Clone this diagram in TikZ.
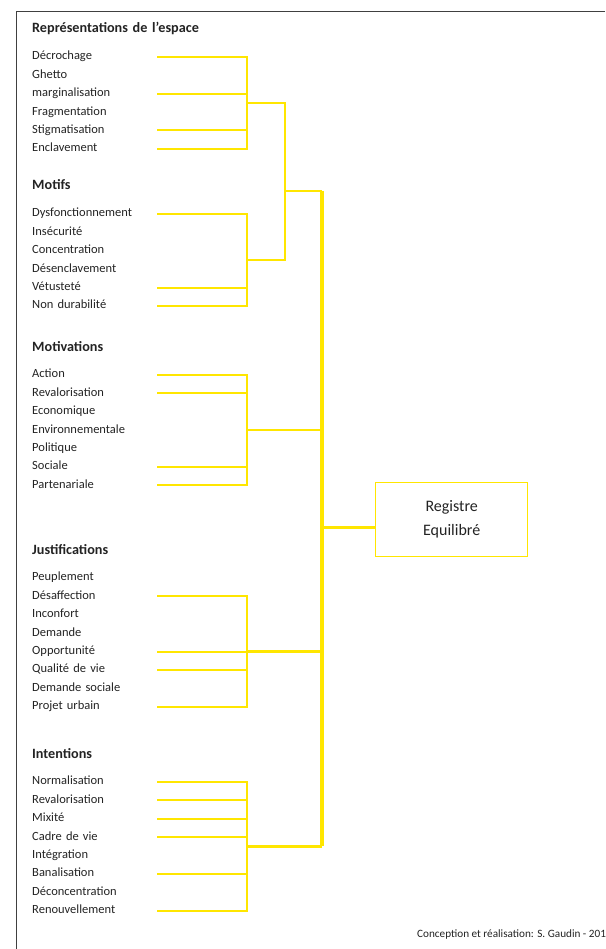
\documentclass[tikz,border=0pt]{standalone}
\usepackage{fontspec}
\setmainfont{Carlito}
\usepackage{xcolor}
\usetikzlibrary{positioning}
\definecolor{trait}{RGB}{255,230,0}
\definecolor{encre}{RGB}{35,35,35}

\begin{document}
\begin{tikzpicture}[
  x=1pt, y=-1pt, node distance=6pt,
  item/.style={inner sep=0pt,text width=200pt,align=left,text height=9pt,text depth=3pt,font=\fontsize{12.5}{14}\selectfont,text=encre},
  head/.style={item,font=\fontsize{14.2}{16}\selectfont\bfseries},
  fil/.style={draw=trait,line width=2pt},
  fil2/.style={draw=trait,line width=2.5pt},
  tronc/.style={draw=trait,line width=3.2pt},
  cadre/.style={draw=trait,line width=1.5pt,minimum width=152pt,minimum height=74pt,align=center,font=\fontsize{16}{24}\selectfont,text=encre}
]
\useasboundingbox (0,0) rectangle (605,949);
% frame
\draw[line width=1.5pt,black!75] (605,11.5) -- (16.5,11.5) -- (16.5,949);

% columns of the tree
\coordinate (ls) at (157,0);
\coordinate (bus) at (247,0);
\coordinate (mid) at (285,0);
\coordinate (tr) at (322,0);

% Representations
\node[head,anchor=west] (h1) at (32,30) {Représentations de l’espace};
\node[item,below=14.5pt of h1] (a1) {Décrochage};
\node[item,below=of a1] (a2) {Ghetto};
\node[item,below=of a2] (a3) {marginalisation};
\node[item,below=of a3] (a4) {Fragmentation};
\node[item,below=of a4] (a5) {Stigmatisation};
\node[item,below=of a5] (a6) {Enclavement};

% Motifs
\node[head,anchor=west] (h2) at (32,187) {Motifs};
\node[item,below=14.5pt of h2] (b1) {Dysfonctionnement};
\node[item,below=of b1] (b2) {Insécurité};
\node[item,below=of b2] (b3) {Concentration};
\node[item,below=of b3] (b4) {Désenclavement};
\node[item,below=of b4] (b5) {Vétusteté};
\node[item,below=of b5] (b6) {Non durabilité};

% Motivations
\node[head,anchor=west] (h3) at (32,348) {Motivations};
\node[item,below=14.5pt of h3] (c1) {Action};
\node[item,below=of c1] (c2) {Revalorisation};
\node[item,below=of c2] (c3) {Economique};
\node[item,below=of c3] (c4) {Environnementale};
\node[item,below=of c4] (c5) {Politique};
\node[item,below=of c5] (c6) {Sociale};
\node[item,below=of c6] (c7) {Partenariale};

% Justifications
\node[head,anchor=west] (h4) at (32,551) {Justifications};
\node[item,below=14.5pt of h4] (d1) {Peuplement};
\node[item,below=of d1] (d2) {Désaffection};
\node[item,below=of d2] (d3) {Inconfort};
\node[item,below=of d3] (d4) {Demande};
\node[item,below=of d4] (d5) {Opportunité};
\node[item,below=of d5] (d6) {Qualité de vie};
\node[item,below=of d6] (d7) {Demande sociale};
\node[item,below=of d7] (d8) {Projet urbain};

% Intentions
\node[head,anchor=west] (h5) at (32,755) {Intentions};
\node[item,below=14.5pt of h5] (e1) {Normalisation};
\node[item,below=of e1] (e2) {Revalorisation};
\node[item,below=of e2] (e3) {Mixité};
\node[item,below=of e3] (e4) {Cadre de vie};
\node[item,below=of e4] (e5) {Intégration};
\node[item,below=of e5] (e6) {Banalisation};
\node[item,below=of e6] (e7) {Déconcentration};
\node[item,below=of e7] (e8) {Renouvellement};

% result
\node[cadre] (reg) at (451.7,519.7) {Registre\\Equilibré};
\coordinate (att) at ([yshift=-8pt]reg.west);

\node[anchor=west,inner sep=0pt,font=\fontsize{11.2}{13}\selectfont,text=encre] (sig) at (417,935) {Conception et réalisation: S. Gaudin - 201};

% brackets
\draw[fil] (ls |- a1) -- (bus |- a1) -- (bus |- a6) coordinate[midway] (g1) -- (ls |- a6);
\draw[fil] (ls |- a3) -- (bus |- a3);
\draw[fil] (ls |- a5) -- (bus |- a5);

\draw[fil] (ls |- b1) -- (bus |- b1) -- (bus |- b6) coordinate[midway] (g2) -- (ls |- b6);
\draw[fil] (ls |- b5) -- (bus |- b5);

\draw[fil] (ls |- c1) -- (bus |- c1) -- (bus |- c7) coordinate[midway] (g3) -- (ls |- c7);
\draw[fil] (ls |- c2) -- (bus |- c2);
\draw[fil] (ls |- c6) -- (bus |- c6);

\draw[fil] (ls |- d2) -- (bus |- d2) -- (bus |- d8) coordinate[midway] (g4) -- (ls |- d8);
\draw[fil] (ls |- d5) -- (bus |- d5);
\draw[fil] (ls |- d6) -- (bus |- d6);

\draw[fil] (ls |- e1) -- (bus |- e1) -- (bus |- e8) coordinate[midway] (g5) -- (ls |- e8);
\draw[fil] (ls |- e2) -- (bus |- e2);
\draw[fil] (ls |- e3) -- (bus |- e3);
\draw[fil] (ls |- e4) -- (bus |- e4);
\draw[fil] (ls |- e6) -- (bus |- e6);

% joining the groups
\coordinate (jn) at (285,191.5);
\draw[fil] (g1) -- (mid |- g1) -- (mid |- g2) -- (g2);
\draw[fil] (jn) -- (tr |- jn);
\draw[tronc] (tr |- jn) -- (tr |- g5);
\draw[fil2] (g3) -- (tr |- g3);
\draw[fil2] (g4) -- (tr |- g4);
\draw[fil2] (g5) -- (tr |- g5);
\draw[draw=trait,line width=3.5pt] (tr |- att) -- (att);
\end{tikzpicture}
\end{document}
